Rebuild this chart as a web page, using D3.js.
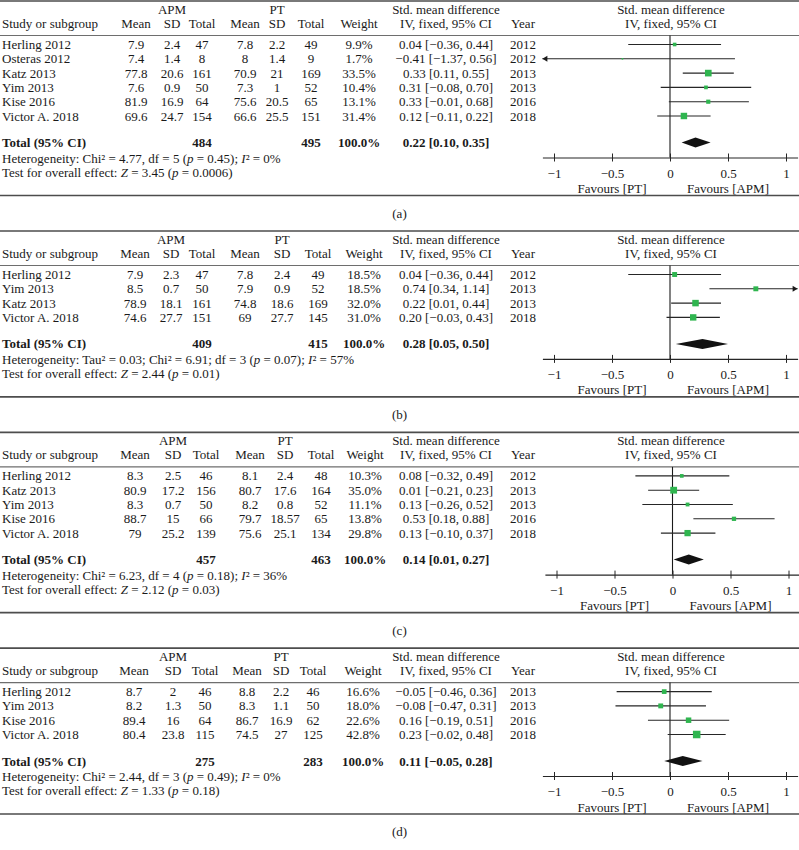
<!DOCTYPE html>
<html><head><meta charset="utf-8">
<script src="https://cdn.jsdelivr.net/npm/d3@7"></script>
<style>
body{margin:0;background:#fff}
svg{display:block}
text{font-family:"Liberation Serif","Times New Roman",serif;font-size:13px;fill:#1a1a1a}
</style>
</head><body>
<svg id="c" width="799" height="850"></svg>
<script>
// ---------- Panel (a) ----------
const studyA   = ["Herling 2012","Osteras 2012","Katz 2013","Yim 2013","Kise 2016","Victor A. 2018"];
const apmMeanA = [7.9, 7.4, 77.8, 7.6, 81.9, 69.6];
const apmSdA   = [2.4, 1.4, 20.6, 0.9, 16.9, 24.7];
const apmNA    = [47, 8, 161, 50, 64, 154];
const ptMeanA  = [7.8, 8, 70.9, 7.3, 75.6, 66.6];
const ptSdA    = [2.2, 1.4, 21, 1, 20.5, 25.5];
const ptNA     = [49, 9, 169, 52, 65, 151];
const weightA  = [9.9, 1.7, 33.5, 10.4, 13.1, 31.4];
const smdA     = [0.04, -0.41, 0.33, 0.31, 0.33, 0.12];
const loA      = [-0.36, -1.37, 0.11, -0.08, -0.01, -0.11];
const hiA      = [0.44, 0.56, 0.55, 0.70, 0.68, 0.35];
const ciTextA  = ["0.04 [−0.36, 0.44]","−0.41 [−1.37, 0.56]","0.33 [0.11, 0.55]","0.31 [−0.08, 0.70]","0.33 [−0.01, 0.68]","0.12 [−0.11, 0.22]"];
const yearA    = [2012, 2012, 2013, 2013, 2016, 2018];
const totalA   = {apmN:484, ptN:495, weight:"100.0%", smd:0.22, lo:0.10, hi:0.35, text:"0.22 [0.10, 0.35]"};
const hetA     = "Heterogeneity: Chi² = 4.77, df = 5 (*p* = 0.45); *I*² = 0%";
const testA    = "Test for overall effect: *Z* = 3.45 (*p* = 0.0006)";

// ---------- Panel (b) ----------
const studyB   = ["Herling 2012","Yim 2013","Katz 2013","Victor A. 2018"];
const apmMeanB = [7.9, 8.5, 78.9, 74.6];
const apmSdB   = [2.3, 0.7, 18.1, 27.7];
const apmNB    = [47, 50, 161, 151];
const ptMeanB  = [7.8, 7.9, 74.8, 69];
const ptSdB    = [2.4, 0.9, 18.6, 27.7];
const ptNB     = [49, 52, 169, 145];
const weightB  = [18.5, 18.5, 32.0, 31.0];
const smdB     = [0.04, 0.74, 0.22, 0.20];
const loB      = [-0.36, 0.34, 0.01, -0.03];
const hiB      = [0.44, 1.14, 0.44, 0.43];
const ciTextB  = ["0.04 [−0.36, 0.44]","0.74 [0.34, 1.14]","0.22 [0.01, 0.44]","0.20 [−0.03, 0.43]"];
const yearB    = [2012, 2013, 2013, 2018];
const totalB   = {apmN:409, ptN:415, weight:"100.0%", smd:0.28, lo:0.05, hi:0.50, text:"0.28 [0.05, 0.50]"};
const hetB     = "Heterogeneity: Tau² = 0.03; Chi² = 6.91; df = 3 (*p* = 0.07); *I*² = 57%";
const testB    = "Test for overall effect: *Z* = 2.44 (*p* = 0.01)";

// ---------- Panel (c) ----------
const studyC   = ["Herling 2012","Katz 2013","Yim 2013","Kise 2016","Victor A. 2018"];
const apmMeanC = [8.3, 80.9, 8.3, 88.7, 79];
const apmSdC   = [2.5, 17.2, 0.7, 15, 25.2];
const apmNC    = [46, 156, 50, 66, 139];
const ptMeanC  = [8.1, 80.7, 8.2, 79.7, 75.6];
const ptSdC    = [2.4, 17.6, 0.8, 18.57, 25.1];
const ptNC     = [48, 164, 52, 65, 134];
const weightC  = [10.3, 35.0, 11.1, 13.8, 29.8];
const smdC     = [0.08, 0.01, 0.13, 0.53, 0.13];
const loC      = [-0.32, -0.21, -0.26, 0.18, -0.10];
const hiC      = [0.49, 0.23, 0.52, 0.88, 0.37];
const ciTextC  = ["0.08 [−0.32, 0.49]","0.01 [−0.21, 0.23]","0.13 [−0.26, 0.52]","0.53 [0.18, 0.88]","0.13 [−0.10, 0.37]"];
const yearC    = [2012, 2013, 2013, 2016, 2018];
const totalC   = {apmN:457, ptN:463, weight:"100.0%", smd:0.14, lo:0.01, hi:0.27, text:"0.14 [0.01, 0.27]"};
const hetC     = "Heterogeneity: Chi² = 6.23, df = 4 (*p* = 0.18); *I*² = 36%";
const testC    = "Test for overall effect: *Z* = 2.12 (*p* = 0.03)";

// ---------- Panel (d) ----------
const studyD   = ["Herling 2012","Yim 2013","Kise 2016","Victor A. 2018"];
const apmMeanD = [8.7, 8.2, 89.4, 80.4];
const apmSdD   = [2, 1.3, 16, 23.8];
const apmND    = [46, 50, 64, 115];
const ptMeanD  = [8.8, 8.3, 86.7, 74.5];
const ptSdD    = [2.2, 1.1, 16.9, 27];
const ptND     = [46, 50, 62, 125];
const weightD  = [16.6, 18.0, 22.6, 42.8];
const smdD     = [-0.05, -0.08, 0.16, 0.23];
const loD      = [-0.46, -0.47, -0.19, -0.02];
const hiD      = [0.36, 0.31, 0.51, 0.48];
const ciTextD  = ["−0.05 [−0.46, 0.36]","−0.08 [−0.47, 0.31]","0.16 [−0.19, 0.51]","0.23 [−0.02, 0.48]"];
const yearD    = [2013, 2013, 2016, 2018];
const totalD   = {apmN:275, ptN:283, weight:"100.0%", smd:0.11, lo:-0.05, hi:0.28, text:"0.11 [−0.05, 0.28]"};
const hetD     = "Heterogeneity: Chi² = 2.44, df = 3 (*p* = 0.49); *I*² = 0%";
const testD    = "Test for overall effect: *Z* = 1.33 (*p* = 0.18)";

const tickValues = [-1, -0.5, 0, 0.5, 1];
const favLeft = "Favours [PT]", favRight = "Favours [APM]";

// ---------- layout ----------
const panels = [
  {label:"(a)", study:studyA, am:apmMeanA, as:apmSdA, an:apmNA, pm:ptMeanA, ps:ptSdA, pn:ptNA, w:weightA, smd:smdA, lo:loA, hi:hiA, ci:ciTextA, yr:yearA, tot:totalA, het:hetA, test:testA,
   cols:{mean:136, sd:172, n:202, pmean:245, psd:277, pn:311, w:359}, shift:0},
  {label:"(b)", study:studyB, am:apmMeanB, as:apmSdB, an:apmNB, pm:ptMeanB, ps:ptSdB, pn:ptNB, w:weightB, smd:smdB, lo:loB, hi:hiB, ci:ciTextB, yr:yearB, tot:totalB, het:hetB, test:testB,
   cols:{mean:135, sd:171, n:202, pmean:245, psd:282, pn:318, w:364}, shift:0},
  {label:"(c)", study:studyC, am:apmMeanC, as:apmSdC, an:apmNC, pm:ptMeanC, ps:ptSdC, pn:ptNC, w:weightC, smd:smdC, lo:loC, hi:hiC, ci:ciTextC, yr:yearC, tot:totalC, het:hetC, test:testC,
   cols:{mean:135, sd:173, n:206, pmean:250, psd:285, pn:321, w:365}, shift:2.5},
  {label:"(d)", study:studyD, am:apmMeanD, as:apmSdD, an:apmND, pm:ptMeanD, ps:ptSdD, pn:ptND, w:weightD, smd:smdD, lo:loD, hi:hiD, ci:ciTextD, yr:yearD, tot:totalD, het:hetD, test:testD,
   cols:{mean:134, sd:173, n:205, pmean:247, psd:281, pn:313, w:363}, shift:0}
];

const svg = d3.select("#c");
const W = 799;
const BL = 4.5; // baseline offset from visual centre
const green = "#2fb54f";
const size = d3.scaleSqrt().domain([0, 100]).range([0, 11.5]);

function txt(g, x, y, s, anchor, bold) {
  return g.append("text").attr("x", x).attr("y", y + BL)
    .attr("text-anchor", anchor || "start")
    .attr("font-weight", bold ? "bold" : null).text(s);
}
function rich(g, x, y, s) {
  const t = g.append("text").attr("x", x).attr("y", y + BL);
  s.split("*").forEach((part, i) => {
    if (part) t.append("tspan").attr("font-style", i % 2 ? "italic" : null).text(part);
  });
}
function hline(g, y, w, c) {
  g.append("line").attr("x1", 0).attr("x2", W).attr("y1", y).attr("y2", y)
    .attr("stroke", c).attr("stroke-width", w);
}

let panelTop = 1;
panels.forEach(p => {
  const n = p.study.length;
  const T = panelTop;
  const g = svg.append("g");
  const rowY = i => T + 43.5 + i * 14.3;
  const yHeadLine = T + 34.5;
  const yTotal = rowY(n - 1) + 26.5;
  const yHet = yTotal + 15.5, yTest = yHet + 14;
  const yAxis = yTotal + 15;
  const yBottom = yTest + 23.5;
  const x = d3.scaleLinear().domain([-1.1, 1.1]).range([542.4 + p.shift, 797.6 + p.shift]);
  const c = p.cols;

  hline(g, T, 1.6, "#4d4d4d");
  hline(g, yHeadLine, 1.1, "#6e6e6e");
  hline(g, yBottom, 1.6, "#4d4d4d");

  // headers
  const h1 = T + 8, h2 = T + 22;
  txt(g, c.sd, h1, "APM", "middle");
  txt(g, c.psd, h1, "PT", "middle");
  txt(g, 446, h1, "Std. mean difference", "middle");
  txt(g, 671, h1, "Std. mean difference", "middle");
  txt(g, 2, h2, "Study or subgroup");
  txt(g, c.mean, h2, "Mean", "middle");
  txt(g, c.sd, h2, "SD", "middle");
  txt(g, c.n, h2, "Total", "middle");
  txt(g, c.pmean, h2, "Mean", "middle");
  txt(g, c.psd, h2, "SD", "middle");
  txt(g, c.pn, h2, "Total", "middle");
  txt(g, c.w, h2, "Weight", "middle");
  txt(g, 446, h2, "IV, fixed, 95% CI", "middle");
  txt(g, 523, h2, "Year", "middle");
  txt(g, 671, h2, "IV, fixed, 95% CI", "middle");

  // study rows
  p.study.forEach((s, i) => {
    const y = rowY(i);
    txt(g, 2, y, s);
    txt(g, c.mean, y, String(p.am[i]), "middle");
    txt(g, c.sd, y, String(p.as[i]), "middle");
    txt(g, c.n, y, String(p.an[i]), "middle");
    txt(g, c.pmean, y, String(p.pm[i]), "middle");
    txt(g, c.psd, y, String(p.ps[i]), "middle");
    txt(g, c.pn, y, String(p.pn[i]), "middle");
    txt(g, c.w, y, p.w[i].toFixed(1) + "%", "middle");
    txt(g, 446, y, p.ci[i], "middle");
    txt(g, 523, y, String(p.yr[i]), "middle");
  });

  // totals
  txt(g, 2, yTotal, "Total (95% CI)", "start", true);
  txt(g, c.n, yTotal, String(p.tot.apmN), "middle", true);
  txt(g, c.pn, yTotal, String(p.tot.ptN), "middle", true);
  txt(g, c.w, yTotal, p.tot.weight, "middle", true);
  txt(g, 446, yTotal, p.tot.text, "middle", true);
  rich(g, 2, yHet, p.het);
  rich(g, 2, yTest, p.test);

  // zero line
  g.append("line").attr("x1", x(0)).attr("x2", x(0))
    .attr("y1", yHeadLine).attr("y2", yAxis)
    .attr("stroke", "#1a1a1a").attr("stroke-width", 1.1);

  // CIs
  const [dmin, dmax] = x.domain();
  p.study.forEach((s, i) => {
    const y = rowY(i);
    const lo = Math.max(p.lo[i], dmin), hi = Math.min(p.hi[i], dmax);
    g.append("line").attr("x1", x(lo)).attr("x2", x(hi)).attr("y1", y).attr("y2", y)
      .attr("stroke", "#262626").attr("stroke-width", 1.1);
    if (p.lo[i] < dmin) {
      const ax = x(dmin);
      g.append("path").attr("d", `M${ax},${y} L${ax + 5},${y - 3} L${ax + 5},${y + 3} Z`).attr("fill", "#1a1a1a");
    }
    if (p.hi[i] > dmax) {
      const ax = x(dmax);
      g.append("path").attr("d", `M${ax},${y} L${ax - 5},${y - 3} L${ax - 5},${y + 3} Z`).attr("fill", "#1a1a1a");
    }
    const sz = Math.max(size(p.w[i]), 1.6);
    g.append("rect").attr("x", x(p.smd[i]) - sz / 2).attr("y", y - sz / 2)
      .attr("width", sz).attr("height", sz).attr("fill", green);
  });

  // diamond
  const t = p.tot;
  g.append("path")
    .attr("d", `M${x(t.lo)},${yTotal} L${x(t.smd)},${yTotal - 5} L${x(t.hi)},${yTotal} L${x(t.smd)},${yTotal + 5} Z`)
    .attr("fill", "#111");

  // axis
  const ax = g.append("g").attr("transform", `translate(0,${yAxis})`)
    .call(d3.axisBottom(x).tickValues(tickValues).tickFormat(d3.format("~g"))
      .tickSizeInner(4).tickSizeOuter(0).tickPadding(7));
  ax.select(".domain").attr("stroke", "#262626").attr("stroke-width", 1.1);
  ax.selectAll(".tick line").attr("y1", -4).attr("y2", 4).attr("stroke", "#262626");
  ax.selectAll(".tick text").attr("font-family", "'Liberation Serif','Times New Roman',serif")
    .attr("font-size", 13).attr("fill", "#1a1a1a");
  txt(g, x(-0.5), yAxis + 31, favLeft, "middle");
  txt(g, x(0.5), yAxis + 31, favRight, "middle");

  // panel label
  txt(g, 399.5, yBottom + 17.5, p.label, "middle");

  panelTop = yBottom + 35.5;
});
</script>
</body></html>
